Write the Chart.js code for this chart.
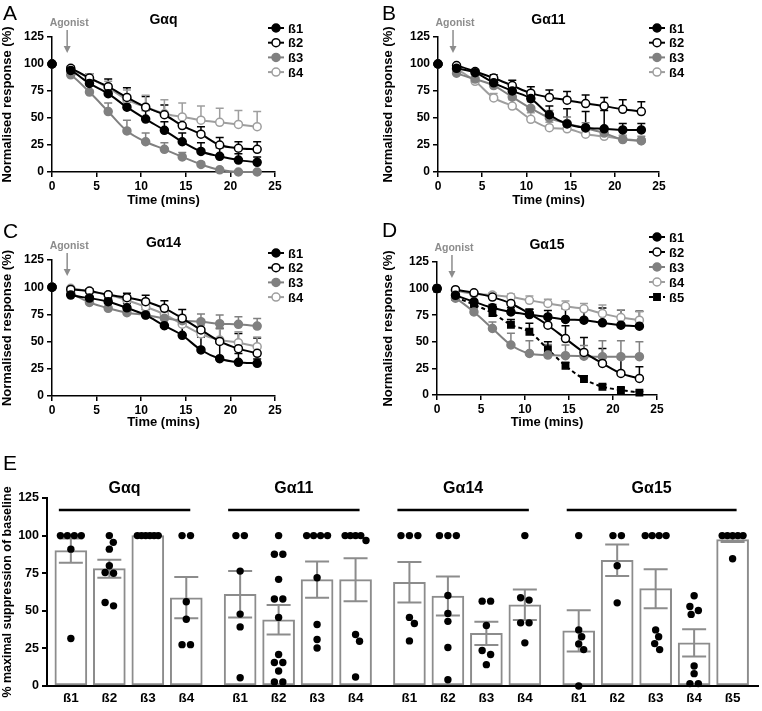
<!DOCTYPE html>
<html>
<head>
<meta charset="utf-8">
<script src="https://cdn.jsdelivr.net/npm/chart.js@4.4.0/dist/chart.umd.min.js"></script>
<style>
  body { margin: 0; background: #fff; }
  #wrap { position: relative; width: 762px; height: 711px; overflow: hidden; font-family: 'Liberation Sans', Arial, sans-serif; }
  canvas { position: absolute; }
  .letter { position: absolute; font-size: 21px; line-height: 23px; color: #000; z-index: 2; }
</style>
</head>
<body>
<div id="wrap">
  <canvas id="cA" width="381" height="208" style="left:0;top:0"></canvas>
  <canvas id="cB" width="381" height="208" style="left:381px;top:0"></canvas>
  <canvas id="cC" width="381" height="222" style="left:0;top:208px"></canvas>
  <canvas id="cD" width="381" height="222" style="left:381px;top:208px"></canvas>
  <canvas id="cE" width="762" height="281" style="left:0;top:430px"></canvas>
  <div class="letter" style="left:3px;top:1px">A</div>
  <div class="letter" style="left:382px;top:1px">B</div>
  <div class="letter" style="left:3px;top:219px">C</div>
  <div class="letter" style="left:382px;top:218px">D</div>
  <div class="letter" style="left:3px;top:451px">E</div>
</div>
<script>
'use strict';

// time points (mins) shared by the four time courses
var times = [0, 2.1, 4.2, 6.3, 8.4, 10.5, 12.6, 14.6, 16.7, 18.8, 20.9, 23.0];
var betaNames = ['ß1', 'ß2', 'ß3', 'ß4', 'ß5'];

// A - Gαq
var gqB1 = [100, 94, 82, 72.5, 60, 49, 38.6, 28, 19, 14.5, 11, 9];
var gqB2 = [100, 96, 87, 79, 69, 60, 53, 43, 35, 25, 22, 21];
var gqB3 = [100, 90, 74, 56, 38, 28, 21, 14, 7, 2, 0, 0];
var gqB4 = [100, 95, 87, 78, 67, 60, 54, 51, 48, 46, 44, 42];
var gqB1Err = [0, 2, 3, 4, 5, 8, 8, 8, 8, 8, 6, 5];
var gqB2Err = [0, 2, 4, 7, 9, 10, 9, 8, 7, 7, 6, 7];
var gqB3Err = [0, 2, 2, 8, 10, 8, 6, 4, 2, 1, 1, 1];
var gqB4Err = [0, 2, 4, 6, 9, 11, 13, 13, 13, 13, 13, 14];

// B - Gα11
var g11B1 = [100, 96, 92, 82.6, 75, 68, 53, 44.5, 41, 40, 39, 39];
var g11B2 = [100, 98.5, 93, 87, 80, 73, 69, 66.5, 63.4, 61, 58, 56];
var g11B3 = [100, 91.5, 86, 80, 69.5, 59, 50, 45, 40.5, 36, 30, 29];
var g11B4 = [100, 95, 84, 68.6, 61, 48.8, 41, 40, 35, 33, 30.5, 29];
var g11B1Err = [0, 1, 2, 3, 5, 5, 8, 14, 15, 17, 6, 6];
var g11B2Err = [0, 1, 2, 3, 5, 6, 7, 8, 8, 8, 9, 9];
var g11B3Err = [0, 1, 2, 4, 6, 6, 7, 6, 5, 5, 4, 4];
var g11B4Err = [0, 1, 2, 4, 6, 6, 5, 4, 4, 3, 3, 2];

// C - Gα14
var g14B1 = [100, 92.8, 90, 86.7, 81, 74.4, 64.6, 55.8, 42.3, 34.3, 31, 30];
var g14B2 = [100, 98, 96.5, 93, 90.4, 86.7, 80.6, 71.4, 60.7, 50.2, 43.5, 39.2];
var g14B3 = [100, 94.4, 86, 80.6, 76.6, 74.4, 71.4, 69.2, 68.3, 66.5, 65.9, 64.3];
var g14B4 = [100, 99, 96, 93, 88, 82, 75, 66, 57, 51.5, 49, 45.3];
var g14B1Err = [0, 1, 2, 3, 4, 5, 8, 10, 12, 14, 8, 4];
var g14B2Err = [0, 1, 2, 2, 4, 6, 7, 8, 9, 12, 14, 14];
var g14B3Err = [0, 1, 2, 2, 2, 3, 5, 5, 7, 8, 7, 7];
var g14B4Err = [0, 1, 2, 2, 3, 4, 5, 6, 8, 10, 10, 9];

// D - Gα15
var g15B1 = [100, 93.7, 87.5, 82, 78, 75.6, 73.4, 71, 70.3, 67.8, 65.6, 64.7];
var g15B2 = [100, 99, 96, 92, 86, 76.5, 65.6, 53, 40, 29.7, 20.3, 15.6];
var g15B3 = [100, 91, 78, 62.5, 47, 39, 37.5, 37, 36.5, 36, 36, 36];
var g15B4 = [100, 98, 95, 94, 92, 89, 86, 83.4, 81, 76.5, 72.8, 70.3];
var g15B5 = [100, 92, 85, 77, 66, 59.4, 43, 27.5, 15, 7.8, 4.7, 2.2];
var g15B1Err = [0, 1, 2, 3, 4, 5, 6, 10, 12, 14, 14, 14];
var g15B2Err = [0, 1, 1, 1, 2, 4, 6, 12, 14, 14, 14, 11];
var g15B3Err = [0, 1, 2, 6, 11, 12, 10, 10, 10, 15, 15, 14];
var g15B4Err = [0, 1, 2, 2, 3, 4, 4, 5, 5, 8, 7, 8];
var g15B5Err = [0, 1, 3, 4, 5, 8, 7, 3, 3, 2, 2, 1];

// E - maximal suppression, one entry per ß subunit in each Gα group
var groupNames = ['Gαq', 'Gα11', 'Gα14', 'Gα15'];
var gqMeans = [90, 78, 100, 58.7];
var g11Means = [61, 44, 70.7, 70.7];
var g14Means = [69, 59.8, 35, 54];
var g15Means = [36.7, 83.6, 64.7, 28.7, 97.3];
var gqSem = [8, 6, 0, 13.7];
var g11Sem = [15.5, 9.8, 12, 14.3];
var g14Sem = [13.5, 13, 7.7, 10.2];
var g15Sem = [13.7, 10.5, 13, 9.1, 1.5];
var gqDots = [
  [100, 100, 100, 100, 91, 31.6],
  [100, 95.5, 91, 80, 75.5, 75, 55.5, 53.3],
  [100, 100, 100, 100, 100, 100],
  [100, 100, 56, 44.4, 27.5, 27.5]
];
var g11Dots = [
  [100, 100, 76.4, 47.8, 39.3, 5.5],
  [100, 87.6, 87.6, 70.9, 57.8, 57.8, 45.6, 20.9, 15.6, 15.6, 10, 2.7, 2.7],
  [100, 100, 100, 100, 72, 40.9, 30.9, 25.3],
  [100, 100, 100, 100, 96.7, 34.2, 29.8, 6]
];
var g14Dots = [
  [100, 100, 100, 45.6, 41.6, 30],
  [100, 100, 100, 60.2, 48.2, 43, 25.6, 4.2],
  [56.4, 56.4, 40.2, 23.6, 20.9, 14.2],
  [100, 58.7, 57.1, 42, 42, 28.7]
];
var g15Dots = [
  [100, 37.3, 32.7, 28, 24.2, 0],
  [100, 100, 80, 55.3],
  [100, 100, 100, 100, 37.3, 32.7, 28.2, 24.2],
  [60, 52.9, 50.2, 47.6, 13.3, 8.2, 1.6, 1.6],
  [100, 100, 100, 100, 100, 84.6]
];

// styles
var GREY = '#808080';
var LIGHT = '#9e9e9e';
var seriesStyle = {
  'ß1': { line: '#000', fill: '#000', shape: 'circle', dash: [] },
  'ß2': { line: '#000', fill: '#fff', shape: 'circle', dash: [] },
  'ß3': { line: GREY, fill: GREY, shape: 'circle', dash: [] },
  'ß4': { line: LIGHT, fill: '#fff', shape: 'circle', dash: [] },
  'ß5': { line: '#000', fill: '#000', shape: 'rect', dash: [4, 3] }
};

Chart.defaults.font.family = "'Liberation Sans', Arial, sans-serif";
Chart.defaults.font.weight = 'bold';
Chart.defaults.color = '#000';

// one-sided (upward) error bars, drawn under the lines
var errorBarPlugin = {
  id: 'errorBars',
  beforeDatasetsDraw: function (chart) {
    var ctx = chart.ctx;
    var yScale = chart.scales.y;
    chart.data.datasets.forEach(function (ds, i) {
      var meta = chart.getDatasetMeta(i);
      ctx.save();
      ctx.strokeStyle = ds.borderColor;
      ctx.lineWidth = 1.5;
      ds.data.forEach(function (pt, j) {
        var err = ds.errors[j];
        if (!err) return;
        var x = meta.data[j].x;
        var y0 = yScale.getPixelForValue(pt.y);
        var y1 = yScale.getPixelForValue(pt.y + err);
        ctx.beginPath();
        ctx.moveTo(x, y0); ctx.lineTo(x, y1);
        ctx.moveTo(x - 4, y1); ctx.lineTo(x + 4, y1);
        ctx.stroke();
      });
      ctx.restore();
    });
  }
};

// title, agonist arrow and the legend at the side
var panelTextPlugin = {
  id: 'panelText',
  afterDraw: function (chart, args, opts) {
    var ctx = chart.ctx;
    var area = chart.chartArea;
    ctx.save();
    ctx.textAlign = 'center';
    ctx.textBaseline = 'middle';
    ctx.fillStyle = '#000';
    ctx.font = "bold 14px 'Liberation Sans', Arial, sans-serif";
    ctx.fillText(opts.title, (area.left + area.right) / 2, area.top - 17);

    var ax = chart.scales.x.getPixelForValue(1.7);
    ctx.fillStyle = '#8c8c8c';
    ctx.strokeStyle = '#8c8c8c';
    ctx.font = "bold 10.5px 'Liberation Sans', Arial, sans-serif";
    ctx.fillText('Agonist', ax + 2, area.top - 14);
    ctx.lineWidth = 1.5;
    ctx.beginPath();
    ctx.moveTo(ax, area.top - 7);
    ctx.lineTo(ax, area.top + 12);
    ctx.stroke();
    ctx.beginPath();
    ctx.moveTo(ax - 3.5, area.top + 9);
    ctx.lineTo(ax, area.top + 16);
    ctx.lineTo(ax + 3.5, area.top + 9);
    ctx.closePath();
    ctx.fill();

    ctx.textAlign = 'left';
    ctx.font = "bold 13px 'Liberation Sans', Arial, sans-serif";
    chart.data.datasets.forEach(function (ds, i) {
      var y = opts.legendY + i * opts.legendStep;
      var x = opts.legendX;
      ctx.strokeStyle = ds.borderColor;
      ctx.lineWidth = 2;
      ctx.setLineDash(ds.borderDash);
      ctx.beginPath();
      ctx.moveTo(x, y); ctx.lineTo(x + 16, y);
      ctx.stroke();
      ctx.setLineDash([]);
      ctx.fillStyle = ds.pointBackgroundColor;
      ctx.strokeStyle = ds.pointBorderColor;
      ctx.lineWidth = 1.5;
      Chart.helpers.drawPoint(ctx, { pointStyle: ds.pointStyle, radius: ds.pointRadius, borderWidth: 1.5, rotation: 0 }, x + 8, y);
      ctx.fillStyle = '#000';
      ctx.fillText(ds.label, x + 20, y + 1);
    });
    ctx.restore();
  }
};

function makeLine(canvasId, title, series, box, legend) {
  var canvas = document.getElementById(canvasId);
  var datasets = series.map(function (s) {
    var st = seriesStyle[s.label];
    return {
      label: s.label,
      data: times.map(function (t, i) { return { x: t, y: s.values[i] }; }),
      errors: s.errors,
      borderColor: st.line,
      backgroundColor: st.fill,
      pointBackgroundColor: st.fill,
      pointBorderColor: st.line,
      pointStyle: st.shape,
      pointRadius: st.shape === 'rect' ? 4.5 : 4,
      pointBorderWidth: 1.5,
      borderWidth: 2,
      borderDash: st.dash,
      cubicInterpolationMode: 'monotone',
      clip: false,
      segment: {
        borderColor: function (ctx) { return ctx.p0DataIndex === 0 ? 'rgba(0,0,0,0)' : undefined; }
      }
    };
  });

  return new Chart(canvas, {
    type: 'line',
    data: { datasets: datasets },
    options: {
      responsive: false,
      animation: false,
      layout: { padding: { left: 0, top: box.top, right: canvas.width - box.right, bottom: 0 } },
      plugins: {
        legend: { display: false },
        tooltip: { enabled: false },
        panelText: { title: title, legendX: legend.x, legendY: legend.y, legendStep: legend.step }
      },
      scales: {
        x: {
          type: 'linear', min: 0, max: 25,
          ticks: { stepSize: 5, font: { size: 12 }, padding: 2, maxRotation: 0 },
          grid: { drawOnChartArea: false, drawTicks: true, tickLength: 5, color: '#000', lineWidth: 1.5 },
          border: { display: true, color: '#000', width: 1.5 },
          title: { display: true, text: 'Time (mins)', font: { size: 13 }, padding: 0 },
          afterFit: function (scale) { scale.height = canvas.height - box.bottom; }
        },
        y: {
          min: 0, max: 125,
          ticks: { stepSize: 25, font: { size: 12 }, padding: 3 },
          grid: { drawOnChartArea: false, drawTicks: true, tickLength: 5, color: '#000', lineWidth: 1.5 },
          border: { display: true, color: '#000', width: 1.5 },
          title: { display: true, text: 'Normalised response (%)', font: { size: 13 }, padding: 0 },
          afterFit: function (scale) { scale.width = box.left; }
        }
      }
    },
    plugins: [errorBarPlugin, panelTextPlugin]
  });
}

makeLine('cA', 'Gαq', [
  { label: 'ß1', values: gqB1, errors: gqB1Err },
  { label: 'ß2', values: gqB2, errors: gqB2Err },
  { label: 'ß3', values: gqB3, errors: gqB3Err },
  { label: 'ß4', values: gqB4, errors: gqB4Err }
], { left: 52, right: 275, top: 37, bottom: 172 }, { x: 268, y: 28, step: 14.7 });

makeLine('cB', 'Gα11', [
  { label: 'ß1', values: g11B1, errors: g11B1Err },
  { label: 'ß2', values: g11B2, errors: g11B2Err },
  { label: 'ß3', values: g11B3, errors: g11B3Err },
  { label: 'ß4', values: g11B4, errors: g11B4Err }
], { left: 57, right: 278, top: 37, bottom: 172 }, { x: 268, y: 28, step: 14.7 });

makeLine('cC', 'Gα14', [
  { label: 'ß1', values: g14B1, errors: g14B1Err },
  { label: 'ß2', values: g14B2, errors: g14B2Err },
  { label: 'ß3', values: g14B3, errors: g14B3Err },
  { label: 'ß4', values: g14B4, errors: g14B4Err }
], { left: 52, right: 275, top: 52, bottom: 188 }, { x: 268, y: 45, step: 14.7 });

makeLine('cD', 'Gα15', [
  { label: 'ß1', values: g15B1, errors: g15B1Err },
  { label: 'ß2', values: g15B2, errors: g15B2Err },
  { label: 'ß3', values: g15B3, errors: g15B3Err },
  { label: 'ß4', values: g15B4, errors: g15B4Err },
  { label: 'ß5', values: g15B5, errors: g15B5Err }
], { left: 56, right: 276, top: 54, bottom: 187 }, { x: 268, y: 29, step: 15 });

// ---- panel E: bars + individual points ----
var GROUP_STEP = 4.4;   // slots between the first bars of two groups
var SLOT_PX = 38.7;     // approx pixels per slot, for the dot spread
var Y_PX = 1.504;       // approx pixels per % unit
var DOT_D = 7.5;

// spread points of similar value sideways, like a beeswarm
function swarm(vals) {
  var sorted = vals.slice().sort(function (a, b) { return b - a; });
  var rows = [];
  sorted.forEach(function (v) {
    var last = rows[rows.length - 1];
    if (last && Math.abs(last.vals[0] - v) < 3.5) last.vals.push(v);
    else rows.push({ vals: [v] });
  });
  var placed = [];
  rows.forEach(function (r) {
    var n = r.vals.length;
    var gap = n > 1 ? Math.min(8.5, 21 / (n - 1)) : 0;
    var base = r.vals.map(function (v, j) { return { v: v, dx: (j - (n - 1) / 2) * gap }; });
    var shift = 0;
    for (var k = 0; k < 60; k++) {
      shift = (k % 2 ? 1 : -1) * Math.ceil(k / 2);
      var hit = base.some(function (b) {
        return placed.some(function (p) {
          var dx = b.dx + shift - p.dx;
          var dy = (b.v - p.v) * Y_PX;
          return dx * dx + dy * dy < DOT_D * DOT_D;
        });
      });
      if (!hit) break;
    }
    base.forEach(function (b) { placed.push({ v: b.v, dx: b.dx + shift }); });
  });
  return placed;
}

var allMeans = [gqMeans, g11Means, g14Means, g15Means];
var allSem = [gqSem, g11Sem, g14Sem, g15Sem];
var allDots = [gqDots, g11Dots, g14Dots, g15Dots];

var barPos = [], barLabels = [], barData = [], barSem = [], dotData = [];
allMeans.forEach(function (means, g) {
  means.forEach(function (m, i) {
    var p = g * GROUP_STEP + i;
    barPos.push(p);
    barLabels.push(betaNames[i]);
    barData.push({ x: p, y: m });
    barSem.push(allSem[g][i]);
    swarm(allDots[g][i]).forEach(function (d) {
      dotData.push({ x: p + d.dx / SLOT_PX, y: d.v });
    });
  });
});

var semPlugin = {
  id: 'semBars',
  afterDatasetDraw: function (chart, args) {
    if (args.index !== 0) return;
    var ctx = chart.ctx;
    var yScale = chart.scales.y;
    var meta = args.meta;
    ctx.save();
    ctx.strokeStyle = '#8c8c8c';
    ctx.lineWidth = 2;
    barData.forEach(function (b, i) {
      var s = barSem[i];
      if (!s) return;
      var x = meta.data[i].x;
      var yHi = yScale.getPixelForValue(b.y + s);
      var yLo = yScale.getPixelForValue(b.y - s);
      ctx.beginPath();
      ctx.moveTo(x, yHi); ctx.lineTo(x, yLo);
      ctx.moveTo(x - 12, yHi); ctx.lineTo(x + 12, yHi);
      ctx.moveTo(x - 12, yLo); ctx.lineTo(x + 12, yLo);
      ctx.stroke();
    });
    ctx.restore();
  }
};

var groupLabelPlugin = {
  id: 'groupLabels',
  afterDraw: function (chart) {
    var ctx = chart.ctx;
    var xs = chart.scales.x;
    var top = chart.chartArea.top;
    ctx.save();
    ctx.strokeStyle = '#000';
    ctx.fillStyle = '#000';
    ctx.lineWidth = 2.5;
    ctx.textAlign = 'center';
    ctx.textBaseline = 'middle';
    ctx.font = "bold 16px 'Liberation Sans', Arial, sans-serif";
    groupNames.forEach(function (name, g) {
      var first = g * GROUP_STEP;
      var last = first + allMeans[g].length - 1;
      var x1 = xs.getPixelForValue(first) - 12;
      var x2 = xs.getPixelForValue(last) + 4;
      ctx.beginPath();
      ctx.moveTo(x1, top + 12); ctx.lineTo(x2, top + 12);
      ctx.stroke();
      ctx.fillText(name, (x1 + x2) / 2, top - 9);
    });
    ctx.restore();
  }
};

var canvasE = document.getElementById('cE');
var boxE = { left: 47, right: 762, top: 68, bottom: 256 };
new Chart(canvasE, {
  type: 'bar',
  data: {
    datasets: [
      {
        type: 'bar',
        data: barData,
        backgroundColor: '#fff',
        borderColor: '#8c8c8c',
        borderWidth: 2,
        borderSkipped: false,
        barThickness: 32,
        order: 1
      },
      {
        type: 'scatter',
        data: dotData,
        backgroundColor: '#000',
        borderColor: '#000',
        borderWidth: 0,
        pointRadius: 3.7,
        clip: false,
        order: 0
      }
    ]
  },
  options: {
    responsive: false,
    animation: false,
    layout: { padding: { left: 0, top: boxE.top, right: canvasE.width - boxE.right, bottom: 0 } },
    plugins: { legend: { display: false }, tooltip: { enabled: false } },
    scales: {
      x: {
        type: 'linear', min: -0.62, max: 17.86, bounds: 'data', offset: false,
        afterBuildTicks: function (scale) {
          scale.ticks = barPos.map(function (p) { return { value: p }; });
        },
        ticks: {
          autoSkip: false, maxRotation: 0, padding: 4, font: { size: 13.5 },
          callback: function (v, i) { return barLabels[i]; }
        },
        grid: { display: false, drawTicks: false },
        border: { display: true, color: '#000', width: 2 },
        afterFit: function (scale) { scale.height = canvasE.height - boxE.bottom; }
      },
      y: {
        min: 0, max: 125,
        ticks: { stepSize: 25, font: { size: 12.5 }, padding: 3 },
        grid: { drawOnChartArea: false, drawTicks: true, tickLength: 5, color: '#000', lineWidth: 2 },
        border: { display: true, color: '#000', width: 2 },
        title: { display: true, text: '% maximal suppression of baseline', font: { size: 12.5 }, padding: 0 },
        afterFit: function (scale) { scale.width = boxE.left; }
      }
    }
  },
  plugins: [semPlugin, groupLabelPlugin]
});
</script>
</body>
</html>
